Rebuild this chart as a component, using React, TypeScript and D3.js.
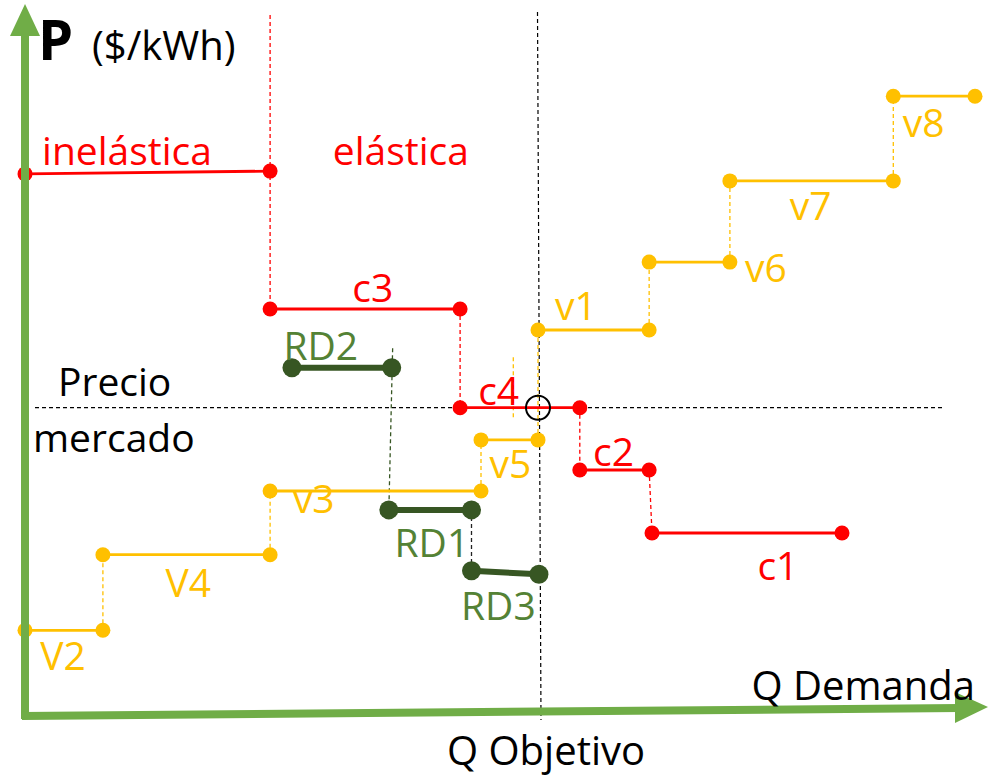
import React from "react";
import * as d3 from "d3";

// Q (0-100) and P (0-100) units
const redSteps = [
  { name: "inelástica", q0: 0, q1: 25.8, p0: 77.3, p1: 77.7 },
  { name: "c3", q0: 25.8, q1: 45.8, p0: 58, p1: 58 },
  { name: "c4", q0: 45.8, q1: 58.4, p0: 43.9, p1: 43.9 },
  { name: "c2", q0: 58.4, q1: 65.7, p0: 35, p1: 35 },
  { name: "c1", q0: 66, q1: 86, p0: 26, p1: 26 },
];
const redLinks = [
  { q0: 25.8, q1: 25.8, p0: 100, p1: 58 },
  { q0: 45.8, q1: 45.8, p0: 58, p1: 43.9 },
  { q0: 58.4, q1: 58.4, p0: 43.9, p1: 35 },
  { q0: 65.7, q1: 66, p0: 35, p1: 26 },
];
const yellowSteps = [
  { name: "V2", q0: 0, q1: 8.2, p0: 12.1, p1: 12.1 },
  { name: "V4", q0: 8.2, q1: 25.8, p0: 22.9, p1: 22.9 },
  { name: "v3", q0: 25.8, q1: 48, p0: 32, p1: 32 },
  { name: "v5", q0: 48, q1: 54, p0: 39.3, p1: 39.3 },
  { name: "v1", q0: 54, q1: 65.7, p0: 55, p1: 55 },
  { name: "v6", q0: 65.7, q1: 74.2, p0: 64.7, p1: 64.7 },
  { name: "v7", q0: 74.2, q1: 91.4, p0: 76.3, p1: 76.3 },
  { name: "v8", q0: 91.4, q1: 100, p0: 88.4, p1: 88.4 },
];
const yellowLinks = [
  { q0: 8.2, q1: 8.2, p0: 12.1, p1: 22.9 },
  { q0: 25.8, q1: 25.8, p0: 22.9, p1: 32 },
  { q0: 48, q1: 48, p0: 32, p1: 39.3 },
  { q0: 54, q1: 54, p0: 39.3, p1: 55 },
  { q0: 65.7, q1: 65.7, p0: 55, p1: 64.7 },
  { q0: 74.2, q1: 74.2, p0: 64.7, p1: 76.3 },
  { q0: 91.4, q1: 91.4, p0: 76.3, p1: 88.4 },
  { q0: 51.4, q1: 51.4, p0: 51.1, p1: 42.1 },
];
const greenSteps = [
  { name: "RD2", q0: 28.1, q1: 38.6, p0: 49.6, p1: 49.6 },
  { name: "RD1", q0: 38.3, q1: 47, p0: 29.3, p1: 29.3 },
  { name: "RD3", q0: 47, q1: 54.1, p0: 20.6, p1: 20.1 },
];
const greenLinks = [{ q0: 38.7, q1: 38.3, p0: 52.4, p1: 29.3 }];
const darkLinks = [{ q0: 47, q1: 47, p0: 29.3, p1: 20.6 }];

const marketPrice = 43.9;
const targetQ = 54;

const labels = [
  { text: "inelástica", q: 1.8, p: 78.6, color: "red", anchor: "start" },
  { text: "elástica", q: 32.4, p: 78.6, color: "red", anchor: "start" },
  { text: "c3", q: 36.6, p: 59, color: "red", anchor: "middle" },
  { text: "c4", q: 47.7, p: 44.3, color: "red", anchor: "start" },
  { text: "c2", q: 59.8, p: 35.6, color: "red", anchor: "start" },
  { text: "c1", q: 77.1, p: 19.3, color: "red", anchor: "start" },
  { text: "v1", q: 55.8, p: 56.4, color: "yellow", anchor: "start" },
  { text: "v5", q: 48.9, p: 33.9, color: "yellow", anchor: "start" },
  { text: "v3", q: 28.2, p: 28.9, color: "yellow", anchor: "start" },
  { text: "V4", q: 14.8, p: 16.9, color: "yellow", anchor: "start" },
  { text: "V2", q: 1.6, p: 6.4, color: "yellow", anchor: "start" },
  { text: "v6", q: 75.8, p: 61.9, color: "yellow", anchor: "start" },
  { text: "v7", q: 80.5, p: 70.7, color: "yellow", anchor: "start" },
  { text: "v8", q: 92.4, p: 82.6, color: "yellow", anchor: "start" },
  { text: "RD2", q: 27.2, p: 50.7, color: "green", anchor: "start" },
  { text: "RD1", q: 38.9, p: 22.6, color: "green", anchor: "start" },
  { text: "RD3", q: 45.9, p: 13.6, color: "green", anchor: "start" },
];

const COLORS: Record<string, string> = {
  red: "#FF0000",
  yellow: "#FFC000",
  green: "#548235",
  darkGreen: "#375623",
  axis: "#70AD47",
};

const W = 998;
const H = 778;
const FONT = "'Open Sans', sans-serif";

export default function App() {
  const x = d3.scaleLinear().domain([0, 100]).range([25, 975]);
  const y = d3.scaleLinear().domain([0, 100]).range([715, 15]);

  const seg = (s: any, color: string, width: number, r: number, key: string) => (
    <g key={key}>
      <line x1={x(s.q0)} y1={y(s.p0)} x2={x(s.q1)} y2={y(s.p1)} stroke={color} strokeWidth={width} />
      <circle cx={x(s.q0)} cy={y(s.p0)} r={r} fill={color} />
      <circle cx={x(s.q1)} cy={y(s.p1)} r={r} fill={color} />
    </g>
  );
  const link = (s: any, color: string, key: string, dash = "4,3") => (
    <line key={key} x1={x(s.q0)} y1={y(s.p0)} x2={x(s.q1)} y2={y(s.p1)} stroke={color} strokeWidth={1.3} strokeDasharray={dash} />
  );

  return (
    <svg width={W} height={H} style={{ position: "absolute", left: 0, top: 0, background: "#fff" }}>
      {/* guide lines */}
      <line x1={35} x2={945} y1={y(marketPrice)} y2={y(marketPrice)} stroke="#000" strokeWidth={1.2} strokeDasharray="4,3" />
      <line x1={x(targetQ) - 0.5} x2={x(targetQ) + 3} y1={12} y2={720} stroke="#000" strokeWidth={1.2} strokeDasharray="4,3" />

      {redLinks.map((s, i) => link(s, COLORS.red, "rl" + i))}
      {yellowLinks.map((s, i) => link(s, COLORS.yellow, "yl" + i))}
      {greenLinks.map((s, i) => link(s, COLORS.darkGreen, "gl" + i))}
      {darkLinks.map((s, i) => link(s, "#222", "dl" + i))}

      {redSteps.map((s, i) => seg(s, COLORS.red, 2.8, 7.5, "r" + i))}
      {yellowSteps.map((s, i) => seg(s, COLORS.yellow, 2.8, 7.5, "y" + i))}
      {greenSteps.map((s, i) => seg(s, COLORS.darkGreen, 6, 9.5, "g" + i))}

      <circle cx={x(targetQ)} cy={y(marketPrice)} r={12} fill="none" stroke="#000" strokeWidth={2} />

      {/* axes */}
      <line x1={25} y1={719} x2={25} y2={35} stroke={COLORS.axis} strokeWidth={8} />
      <polygon points="25,4 10,36 40,36" fill={COLORS.axis} />
      <line x1={22} y1={716} x2={960} y2={708} stroke={COLORS.axis} strokeWidth={8} />
      <polygon points="988,707 955,692 955,723" fill={COLORS.axis} />

      {labels.map((l, i) => (
        <text key={"t" + i} x={x(l.q)} y={y(l.p)} textAnchor={l.anchor as any} fill={COLORS[l.color]} fontFamily={FONT} fontSize={39}>
          {l.text}
        </text>
      ))}

      <text x={38} y={60} fontFamily={FONT} fontSize={56} fontWeight="bold" fill="#000">P</text>
      <text x={92} y={60} fontFamily={FONT} fontSize={40} fill="#000">($/kWh)</text>
      <text x={58} y={396} fontFamily={FONT} fontSize={39} fill="#000">Precio</text>
      <text x={33} y={452} fontFamily={FONT} fontSize={39} fill="#000">mercado</text>
      <text x={975} y={700} textAnchor="end" fontFamily={FONT} fontSize={40} fill="#000">Q Demanda</text>
      <text x={447} y={765} fontFamily={FONT} fontSize={40} fill="#000">Q Objetivo</text>
    </svg>
  );
}
